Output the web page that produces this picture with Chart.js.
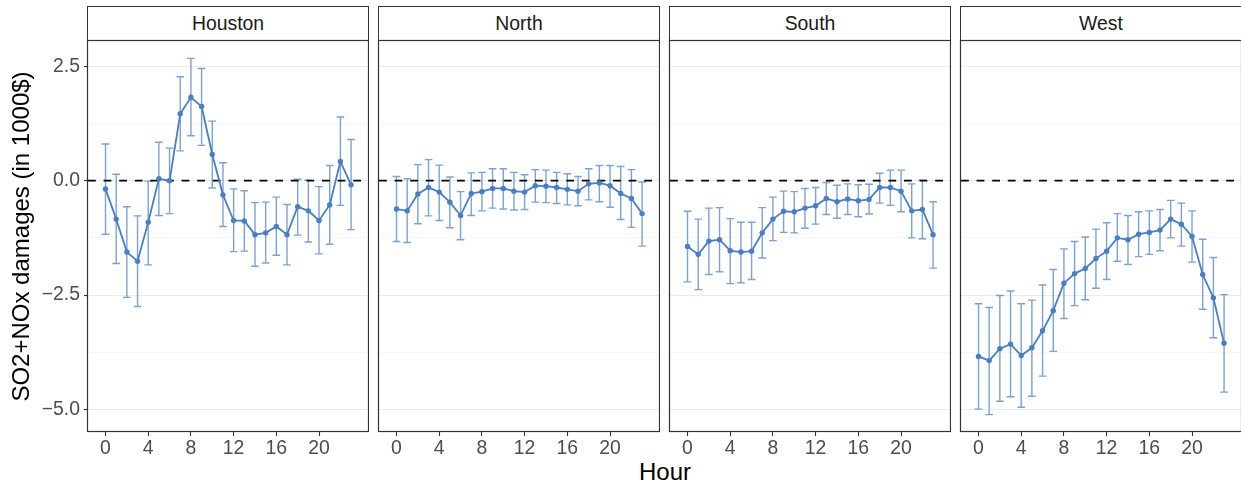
<!DOCTYPE html>
<html>
<head>
<meta charset="utf-8">
<script src="https://cdn.jsdelivr.net/npm/chart.js@4.4.1/dist/chart.umd.min.js"></script>
<style>
  html, body { margin: 0; padding: 0; background: #fff; overflow: hidden; }
  #wrap { position: relative; width: 1241px; height: 487px; overflow: hidden;
          font-family: "Liberation Sans", Arial, sans-serif; }
  #wrap canvas { position: absolute; top: 0; }
  .strip { position: absolute; top: 6px; height: 35px; box-sizing: border-box;
           border: 1px solid #333; border-bottom: none; background: #fff;
           text-align: center; line-height: 33px; font-size: 19.4px; color: #1a1a1a; }
  #xtitle { position: absolute; left: 88px; width: 1154px; top: 458px; text-align: center;
            font-size: 24px; line-height: 28px; color: #000; }
</style>
</head>
<body>
<div id="wrap">
  <div id="xtitle">Hour</div>
</div>
<script>
/* ───────────────────────────── data */
const hours  = [0, 1, 2, 3, 4, 5, 6, 7, 8, 9, 10, 11, 12, 13, 14, 15, 16, 17, 18, 19, 20, 21, 22, 23];
const panels = ['Houston', 'North', 'South', 'West'];

const houstonMean = [-0.18, -0.84, -1.56, -1.76, -0.91, 0.04, 0.00, 1.46, 1.82, 1.62, 0.57, -0.31,
                     -0.87, -0.88, -1.18, -1.14, -1.00, -1.18, -0.57, -0.66, -0.87, -0.53, 0.42, -0.09];
const houstonLo   = [-1.17, -1.81, -2.55, -2.75, -1.84, -0.76, -0.72, 0.65, 0.98, 0.77, -0.16, -1.00,
                     -1.55, -1.54, -1.87, -1.80, -1.63, -1.84, -1.19, -1.34, -1.60, -1.39, -0.54, -1.07];
const houstonHi   = [0.80, 0.14, -0.57, -0.77, -0.01, 0.84, 0.71, 2.27, 2.67, 2.45, 1.30, 0.39,
                     -0.18, -0.22, -0.48, -0.47, -0.36, -0.52, 0.03, 0.01, -0.13, 0.33, 1.39, 0.90];

const northMean = [-0.62, -0.66, -0.29, -0.15, -0.25, -0.47, -0.76, -0.28, -0.24, -0.17, -0.17, -0.23,
                   -0.25, -0.11, -0.12, -0.15, -0.19, -0.23, -0.07, -0.05, -0.11, -0.28, -0.39, -0.72];
const northLo   = [-1.33, -1.35, -0.94, -0.77, -0.87, -1.03, -1.29, -0.76, -0.66, -0.60, -0.62, -0.64,
                   -0.63, -0.47, -0.48, -0.50, -0.53, -0.55, -0.42, -0.46, -0.58, -0.85, -1.02, -1.43];
const northHi   = [0.09, 0.04, 0.35, 0.46, 0.34, 0.08, -0.24, 0.17, 0.18, 0.26, 0.26, 0.18,
                   0.13, 0.24, 0.23, 0.18, 0.15, 0.09, 0.26, 0.33, 0.33, 0.31, 0.24, -0.03];

const southMean = [-1.44, -1.61, -1.32, -1.29, -1.53, -1.56, -1.54, -1.14, -0.84, -0.67, -0.68, -0.60,
                   -0.55, -0.39, -0.46, -0.40, -0.44, -0.41, -0.15, -0.15, -0.23, -0.66, -0.63, -1.18];
const southLo   = [-2.21, -2.38, -2.05, -1.99, -2.25, -2.23, -2.16, -1.69, -1.31, -1.13, -1.14, -1.04,
                   -0.95, -0.74, -0.82, -0.74, -0.79, -0.73, -0.49, -0.54, -0.68, -1.25, -1.27, -1.91];
const southHi   = [-0.67, -0.84, -0.60, -0.59, -0.83, -0.91, -0.91, -0.59, -0.36, -0.23, -0.24, -0.17,
                   -0.15, -0.04, -0.10, -0.07, -0.09, -0.08, 0.16, 0.23, 0.23, -0.07, 0.01, -0.46];

const westMean = [-3.84, -3.93, -3.67, -3.57, -3.82, -3.65, -3.28, -2.84, -2.24, -2.03, -1.92, -1.70,
                  -1.54, -1.25, -1.29, -1.17, -1.13, -1.08, -0.84, -0.95, -1.22, -2.05, -2.56, -3.55];
const westLo   = [-4.99, -5.11, -4.82, -4.72, -4.95, -4.71, -4.27, -3.73, -3.01, -2.73, -2.60, -2.35,
                  -2.16, -1.76, -1.83, -1.66, -1.61, -1.53, -1.25, -1.43, -1.78, -2.81, -3.43, -4.62];
const westHi   = [-2.69, -2.77, -2.51, -2.41, -2.69, -2.61, -2.28, -1.94, -1.49, -1.33, -1.23, -1.06,
                  -0.92, -0.72, -0.76, -0.68, -0.66, -0.63, -0.43, -0.49, -0.66, -1.28, -1.68, -2.49];

const xTicks   = [0, 4, 8, 12, 16, 20];
const yTicks   = [-5, -3.75, -2.5, -1.25, 0, 1.25, 2.5];
const yMajor   = [-5, -2.5, 0, 2.5];
const zeroLine = 0;

/* ───────────────────────────── layout / style */
const X_MIN = -1.64, X_MAX = 24.68;
const Y_MIN = -5.49, Y_MAX = 3.05;
const PANEL_LEFT = [88, 379, 670, 961];
const PANEL_W    = 281;
const LINE_COL   = '#4a7ec2';
const ERR_COL    = 'rgba(74,126,194,0.72)';
const FONT       = '"Liberation Sans", Arial, sans-serif';

/* ───────────────────────────── plugins */
const errorBars = {
  id: 'errorBars',
  beforeDatasetsDraw(chart) {
    const ds = chart.data.datasets[0];
    const { ctx, scales: { x, y } } = chart;
    ctx.save();
    ctx.strokeStyle = ERR_COL;
    ctx.lineWidth = 1.4;
    hours.forEach((h, i) => {
      const px  = x.getPixelForValue(h);
      const cl  = x.getPixelForValue(h - 0.36), cr = x.getPixelForValue(h + 0.36);
      const yLo = y.getPixelForValue(ds.lo[i]), yHi = y.getPixelForValue(ds.hi[i]);
      ctx.beginPath();
      ctx.moveTo(px, yLo); ctx.lineTo(px, yHi);
      ctx.moveTo(cl, yLo); ctx.lineTo(cr, yLo);
      ctx.moveTo(cl, yHi); ctx.lineTo(cr, yHi);
      ctx.stroke();
    });
    ctx.restore();
  }
};

const panelBorder = {
  id: 'panelBorder',
  afterDraw(chart) {
    const { ctx, chartArea: a } = chart;
    ctx.save();
    ctx.strokeStyle = '#333';
    ctx.lineWidth = 1.2;
    ctx.strokeRect(a.left - 0.5, a.top - 0.5, a.right - a.left, a.bottom - a.top);
    ctx.restore();
  }
};

const fmtY = v => v.toFixed(1).replace('-', '\u2212');

/* ───────────────────────────── one facet */
function makePanel(idx, mean, lo, hi) {
  const wrap  = document.getElementById('wrap');
  const first = idx === 0;
  const padL  = first ? PANEL_LEFT[0] : 2;     // room left of the panel inside its canvas
  const left  = PANEL_LEFT[idx] - padL;

  const strip = document.createElement('div');
  strip.className = 'strip';
  strip.style.left  = (PANEL_LEFT[idx] - 1) + 'px';
  strip.style.width = (PANEL_W + 1) + 'px';
  strip.textContent = panels[idx];
  wrap.appendChild(strip);

  const canvas = document.createElement('canvas');
  canvas.width  = padL + PANEL_W;
  canvas.height = 487;
  canvas.style.left = left + 'px';
  wrap.appendChild(canvas);

  new Chart(canvas, {
    type: 'line',
    data: {
      datasets: [
        {
          data: hours.map((h, i) => ({ x: h, y: mean[i] })),
          lo, hi,
          borderColor: LINE_COL, borderWidth: 1.8,
          pointRadius: 2.7, pointBackgroundColor: LINE_COL, pointBorderWidth: 0,
          tension: 0
        },
        {
          data: [{ x: X_MIN, y: zeroLine }, { x: X_MAX, y: zeroLine }],
          borderColor: '#000', borderWidth: 1.6, borderDash: [7.8, 7.8],
          pointRadius: 0
        }
      ]
    },
    options: {
      responsive: false,
      animation: false,
      devicePixelRatio: 1,
      layout: { autoPadding: false, padding: { top: 41, right: 0, bottom: 0, left: 0 } },
      plugins: { legend: { display: false }, tooltip: { enabled: false } },
      scales: {
        x: {
          type: 'linear', min: X_MIN, max: X_MAX,
          afterBuildTicks: s => { s.ticks = xTicks.map(v => ({ value: v })); },
          afterFit: s => { s.height = 55; s.paddingLeft = 0; s.paddingRight = 0; },
          border: { display: false },
          grid: { drawOnChartArea: false, tickLength: 4, tickColor: '#333', tickWidth: 1.1 },
          ticks: { padding: 1, color: '#4d4d4d', autoSkip: false, maxRotation: 0,
                   font: { family: FONT, size: 19.4 }, callback: v => String(v) }
        },
        y: {
          type: 'linear', min: Y_MIN, max: Y_MAX,
          afterBuildTicks: s => { s.ticks = yTicks.map(v => ({ value: v })); },
          afterFit: s => { s.width = padL; s.paddingTop = 0; s.paddingBottom = 0; },
          border: { display: false },
          grid: {
            drawTicks: first, tickLength: 4, tickWidth: 1.1,
            color: c => yMajor.includes(c.tick.value) ? '#ebebeb' : '#f2f2f2',
            lineWidth: c => yMajor.includes(c.tick.value) ? 1.1 : 0.7,
            tickColor: c => yMajor.includes(c.tick.value) ? '#333' : 'rgba(0,0,0,0)'
          },
          ticks: { display: first, padding: 4, color: '#4d4d4d',
                   font: { family: FONT, size: 19.4 },
                   callback: v => yMajor.includes(v) ? fmtY(v) : '' },
          title: { display: first, text: 'SO2+NOx damages (in 1000$)', color: '#000',
                   font: { family: FONT, size: 24 }, padding: { top: 8, bottom: 0 } }
        }
      }
    },
    plugins: [errorBars, panelBorder]
  });
}

/* ───────────────────────────── build */
makePanel(0, houstonMean, houstonLo, houstonHi);
makePanel(1, northMean, northLo, northHi);
makePanel(2, southMean, southLo, southHi);
makePanel(3, westMean, westLo, westHi);
</script>
</body>
</html>
